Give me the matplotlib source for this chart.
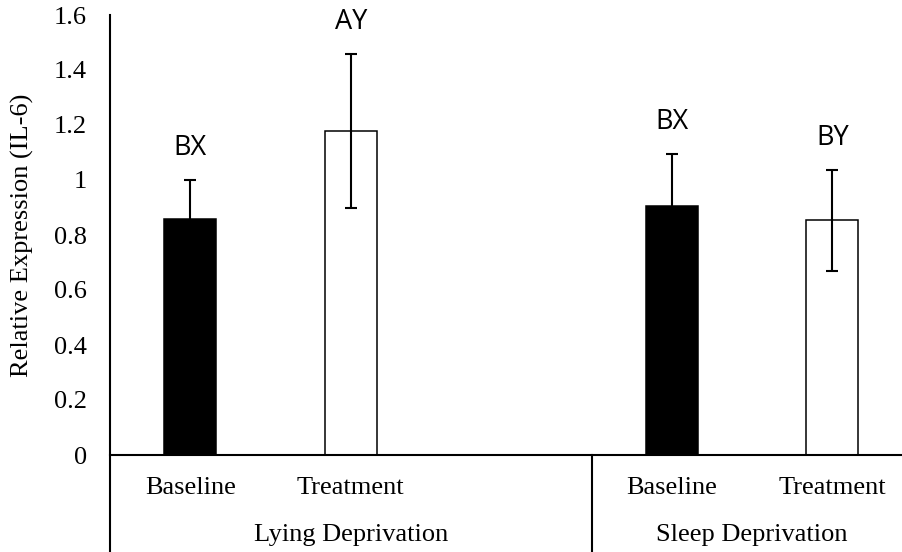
import numpy as np
import matplotlib
matplotlib.use("Agg")
import matplotlib.pyplot as plt
import matplotlib.transforms as mtransforms

# values
conditions = ["Baseline", "Treatment", "", "Baseline", "Treatment"]
groups = ["Lying Deprivation", "Sleep Deprivation"]
group_centers = [1.0, 3.5]
means = [0.86, 1.18, np.nan, 0.905, 0.853]
errors = [0.14, 0.28, np.nan, 0.19, 0.183]
letters = ["BX", "AY", "", "BX", "BY"]
colors = ["black", "white", "white", "black", "white"]

W, H = 903, 552
fig = plt.figure(figsize=(W / 100, H / 100), dpi=100)
ax = fig.add_axes([110 / W, (H - 455) / H, 793 / W, 440 / H])

x = np.arange(len(conditions))
ax.bar(x, means, width=0.324, color=colors, edgecolor="black", linewidth=1.1)
ax.errorbar(x, means, yerr=errors, fmt="none", ecolor="black",
            elinewidth=1.5, capsize=4, capthick=1.5)

for xi, m, e, lab in zip(x, means, errors, letters):
    if lab:
        ax.text(xi, m + e + 0.115, lab, ha="center", va="center",
                fontsize=19.5, family="Open Sans")

ax.set_ylim(0, 1.6)
ax.set_xlim(-0.5, 4.44)
ax.set_yticks(np.arange(0, 1.61, 0.2))
ax.set_yticklabels(["0", "0.2", "0.4", "0.6", "0.8", "1", "1.2", "1.4", "1.6"],
                   family="Liberation Serif", fontsize=19)
ax.tick_params(axis="y", length=0, pad=16.5)
ax.set_xticks([])
ax.set_ylabel("Relative Expression (IL-6)", family="Liberation Serif",
              fontsize=19, va="center")
ax.yaxis.set_label_coords(-88 / 793, 0.5)

for s in ["top", "right", "left"]:
    ax.spines[s].set_visible(False)
ax.spines["bottom"].set_linewidth(1.5)

# y axis line running down through the category label area, plus group separator
ax.axvline(-0.5, ymin=-0.22, ymax=1, color="black", lw=1.5, clip_on=False)
ax.axvline(2.5, ymin=-0.22, ymax=0, color="black", lw=1.5, clip_on=False)

trans = mtransforms.blended_transform_factory(ax.transData, ax.transAxes)
for xi, c in zip(x, conditions):
    if c:
        ax.text(xi, -0.075, c, transform=trans, ha="center", va="center",
                family="Liberation Serif", fontsize=19)
for gx, g in zip(group_centers, groups):
    ax.text(gx, -0.182, g, transform=trans, ha="center", va="center",
            family="Liberation Serif", fontsize=19)

fig.savefig("out.png", dpi=100)
